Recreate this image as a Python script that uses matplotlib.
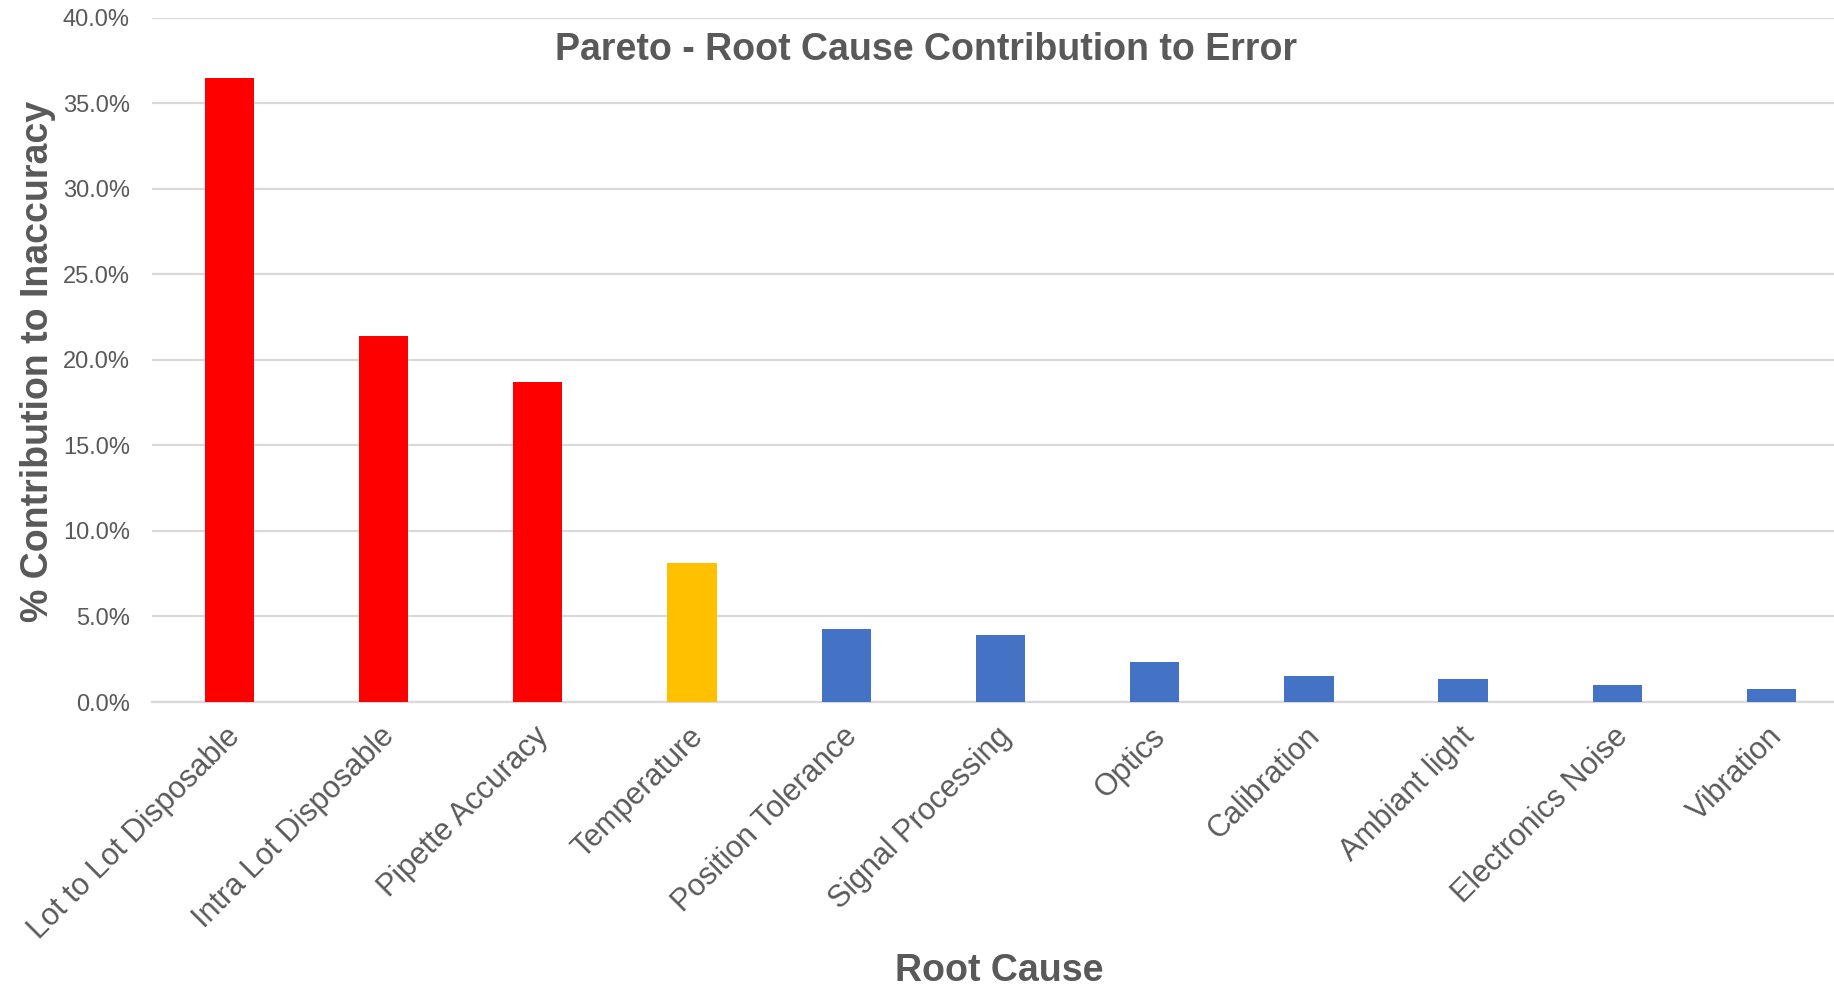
import matplotlib
matplotlib.use("Agg")
import matplotlib.pyplot as plt
import matplotlib.transforms as mtransforms
from matplotlib.ticker import PercentFormatter

plt.rcParams['font.family'] = ['Liberation Sans', 'DejaVu Sans']

causes = ['Lot to Lot Disposable', 'Intra Lot Disposable', 'Pipette Accuracy',
          'Temperature', 'Position Tolerance', 'Signal Processing', 'Optics',
          'Calibration', 'Ambiant light', 'Electronics Noise', 'Vibration']
contribution = [36.5, 21.4, 18.7, 8.1, 4.25, 3.9, 2.35, 1.5, 1.35, 1.0, 0.75]
bar_colors = ['#FF0000'] * 3 + ['#FFC000'] + ['#4472C4'] * 7

text_gray = '#595959'
grid_gray = '#d9d9d9'

fig = plt.figure(figsize=(18.34, 9.86), dpi=100)
ax = fig.add_axes([0.083, 0.288, 0.925, 0.694])

x = range(len(causes))
ax.bar(x, contribution, width=0.32, color=bar_colors, zorder=3)

ax.set_ylim(0, 40)
ax.set_xlim(-0.5, 10.5)
ax.set_yticks(range(0, 41, 5))
ax.yaxis.set_major_formatter(PercentFormatter(decimals=1))
ax.grid(axis='y', color=grid_gray, linewidth=1.6, zorder=0)
ax.set_axisbelow(True)

for s in ['top', 'right', 'left']:
    ax.spines[s].set_visible(False)
ax.spines['bottom'].set_color(grid_gray)
ax.spines['bottom'].set_linewidth(1.6)

ax.set_xticks(list(x))
ax.set_xticklabels(causes, rotation=45, ha='right', va='top',
                   rotation_mode='anchor')
ax.tick_params(axis='x', length=0, pad=14, labelsize=22, labelcolor=text_gray)
ax.tick_params(axis='y', length=0, pad=16, labelsize=17, labelcolor=text_gray)

# nudge the rotated labels a little to the left
shift = mtransforms.ScaledTranslation(-4 / 100, 0, fig.dpi_scale_trans)
for lbl in ax.get_xticklabels():
    lbl.set_transform(lbl.get_transform() + shift)

ax.set_ylabel('% Contribution to Inaccuracy', fontsize=27, fontweight='bold',
              color=text_gray)
ax.yaxis.set_label_coords(-0.057, 0.498)
fig.text(0.545, 0.015, 'Root Cause', fontsize=27, fontweight='bold',
         color=text_gray, ha='center', va='center')
fig.text(0.505, 0.949, 'Pareto - Root Cause Contribution to Error', fontsize=27,
         fontweight='bold', color=text_gray, ha='center', va='center')

fig.savefig('out.png', dpi=100)
